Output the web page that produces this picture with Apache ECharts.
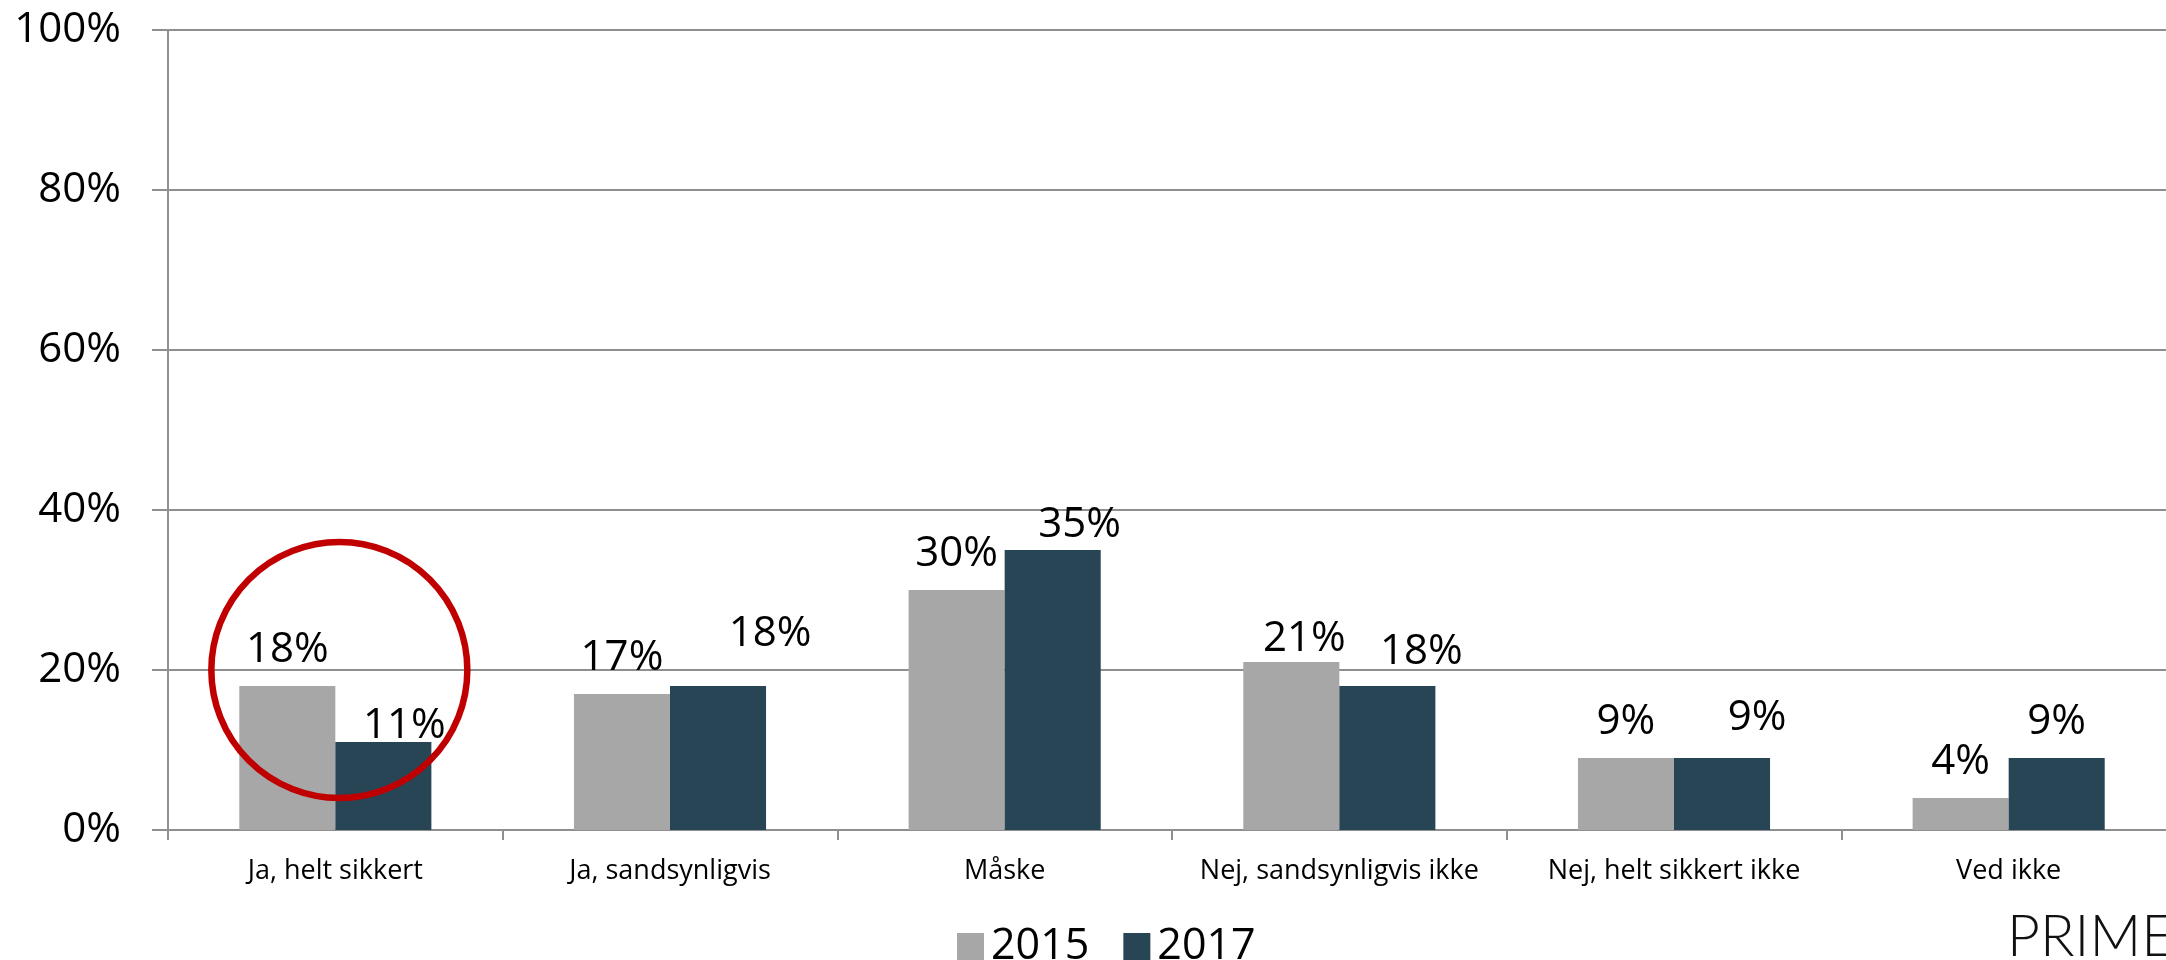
<!DOCTYPE html>
<html>
<head>
<meta charset="utf-8">
<script src="https://cdn.jsdelivr.net/npm/echarts@6/dist/echarts.min.js"></script>
<style>
html,body{margin:0;padding:0;background:#fff;}
#chart{width:2166px;height:960px;}
</style>
</head>
<body>
<div id="chart"></div>
<script>
const categories = ['Ja, helt sikkert', 'Ja, sandsynligvis', 'Måske', 'Nej, sandsynligvis ikke', 'Nej, helt sikkert ikke', 'Ved ikke'];
const values2015 = [18, 17, 30, 21, 9, 4];
const values2017 = [11, 18, 35, 18, 9, 9];
const seriesNames = ['2015', '2017'];
const yTicks = [0, 20, 40, 60, 80, 100];
const highlightValue = 20;
const brand = 'PRIME';

// label nudges (style, not data)
const nudge2015 = [[0,0],[0,0],[0,0],[13,13],[0,0],[0,0]];
const nudge2017 = [[21,20],[52,-16],[27,11],[34,2],[35,-4],[0,0]];

const FONT = '"Open Sans", sans-serif';
const GRID_COLOR = '#8f8f8f';
const C2015 = '#a6a7a6';
const C2017 = '#284556';

function mk(vals, nudges){
  return vals.map((v,i)=>({value:v, label:{offset:nudges[i]}}));
}

const chart = echarts.init(document.getElementById('chart'), null, {renderer:'canvas'});
const option = {
  animation:false,
  backgroundColor:'#fff',
  grid:{left:168, top:30, width:2008, bottom:130, containLabel:false, outerBoundsMode:'none'},
  legend:{
    data:seriesNames,
    left:957, top:925, padding:0,
    itemWidth:27, itemHeight:27, itemGap:34,
    icon:'rect',
    textStyle:{fontFamily:FONT, fontSize:43, color:'#000', padding:[0,0,0,2]}
  },
  xAxis:{
    type:'category',
    data:categories,
    axisLine:{lineStyle:{color:GRID_COLOR, width:2}},
    axisTick:{show:true, length:10, lineStyle:{color:GRID_COLOR, width:2}},
    axisLabel:{fontFamily:FONT, fontSize:27, color:'#000', margin:28, interval:0}
  },
  yAxis:{
    type:'value', min:yTicks[0], max:yTicks[yTicks.length-1], interval:yTicks[1]-yTicks[0],
    axisLine:{show:true, lineStyle:{color:GRID_COLOR, width:2}},
    axisTick:{show:true, length:16, lineStyle:{color:GRID_COLOR, width:2}},
    axisLabel:{fontFamily:FONT, fontSize:42, color:'#000', margin:47, formatter:'{value}%'},
    splitLine:{lineStyle:{color:GRID_COLOR, width:2}}
  },
  series:[
    {name:seriesNames[0], type:'bar', data:mk(values2015,nudge2015), barGap:'0%', barCategoryGap:'42.6%',
     itemStyle:{color:C2015},
     label:{show:true, position:'top', distance:15, formatter:'{c}%', fontFamily:FONT, fontSize:42, color:'#000'}},
    {name:seriesNames[1], type:'bar', data:mk(values2017,nudge2017), barGap:'0%', barCategoryGap:'42.6%',
     itemStyle:{color:C2017},
     label:{show:true, position:'top', distance:15, formatter:'{c}%', fontFamily:FONT, fontSize:42, color:'#000'}}
  ]
};
chart.setOption(option);

const c = chart.convertToPixel({xAxisIndex:0, yAxisIndex:0}, [categories[0], highlightValue]);
chart.setOption({
  graphic:[
    {type:'circle', shape:{cx:c[0]+4, cy:c[1], r:128}, style:{fill:'none', stroke:'#c00000', lineWidth:6.5}, z:100},
    {type:'text', left:2007, top:909, style:{text:brand, fontFamily:'Lato, "Open Sans", sans-serif', fontWeight:300, fontSize:57, fill:'#111'}, z:100}
  ]
});
</script>
</body>
</html>
